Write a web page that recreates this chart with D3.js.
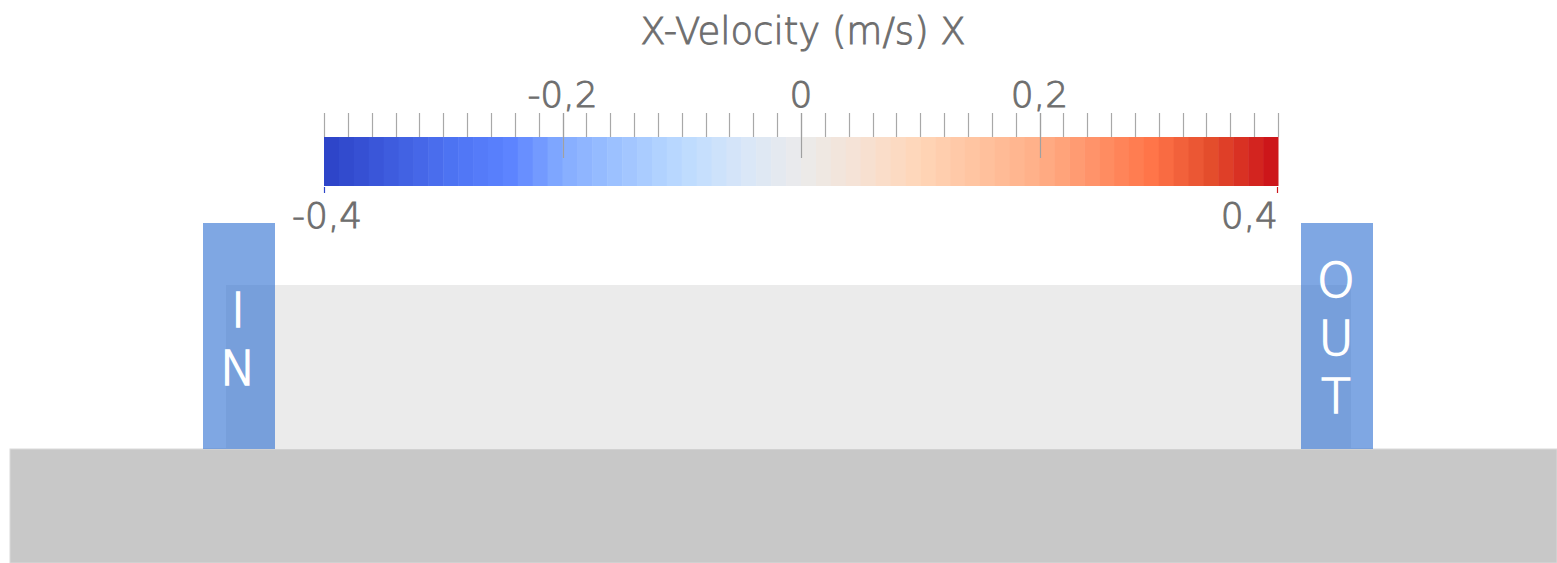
<!DOCTYPE html>
<html>
<head>
<meta charset="utf-8">
<script src="https://cdn.jsdelivr.net/npm/d3@7"></script>
<style>
  body { margin: 0; background: #fff; }
  svg { display: block; }
  text { font-family: "DejaVu Sans", sans-serif; font-weight: 200; }
</style>
</head>
<body>
<div id="chart"></div>
<script>
// chart size
var svg_width = 1557;
var svg_height = 563;

// colour map data (value -> colour)
var title = "X-Velocity (m/s) X";
var range_min = -0.4;
var range_max = 0.4;
var stop_values = [-0.4, -0.3, -0.25, -0.2, -0.1, -0.05, 0, 0.05, 0.1, 0.2, 0.3, 0.35, 0.4];
var stop_colors = ["#2e45c9", "#4d72f2", "#5b82ff", "#86aeff", "#bcdbff", "#d8e6f8", "#ebebeb",
                   "#f6e2d4", "#ffd6b8", "#ffb088", "#ff7448", "#e44c2c", "#cd161a"];
var n_bands = 64;
var major_ticks = [-0.2, 0, 0.2];
var end_labels = [-0.4, 0.4];

// scene blocks
var inlets = [
    { name: "IN", letters: ["I", "N"] },
    { name: "OUT", letters: ["O", "U", "T"] }
];

var svg = d3.select("#chart")
    .append("svg")
    .attr("width", svg_width)
    .attr("height", svg_height);

// comma decimal like the original
var locale = d3.formatLocale({ decimal: ",", thousands: ".", grouping: [3], currency: ["", ""], minus: "-" });
var fmt = locale.format("~g");

// Scales
var x_scale = d3.scaleLinear()
    .domain([range_min, range_max])
    .range([324, 1278]);

var color_lin = d3.scaleLinear()
    .domain(stop_values)
    .range(stop_colors)
    .interpolate(d3.interpolateRgb);

var band_scale = d3.scaleQuantize()
    .domain([range_min, range_max])
    .range(d3.quantize(t => color_lin(range_min + t * (range_max - range_min)), n_bands));

// ---- scene (drawn first, legend sits on top) ----
var scene = svg.append("g");

// ground
scene.append("rect")
    .attr("x", 10).attr("y", 449)
    .attr("width", svg_width - 10).attr("height", svg_height - 449)
    .attr("fill", "#c8c8c8")
    .attr("stroke", "#dadada").attr("stroke-width", 1);

// water channel
scene.append("rect")
    .attr("x", 226).attr("y", 285)
    .attr("width", 1351 - 226).attr("height", 449 - 285)
    .attr("fill", "#ebebeb");

var box_x = d3.scaleOrdinal()
    .domain(inlets.map(d => d.name))
    .range([203, 1301]);

var boxes = scene.selectAll(".inlet")
    .data(inlets)
    .enter()
    .append("g")
    .attr("transform", d => `translate(${box_x(d.name)}, 223)`);

boxes.append("rect")
    .attr("width", 72)
    .attr("height", 449 - 223)
    .attr("fill", "#2a6cd0")
    .attr("fill-opacity", 0.6);

boxes.each(function(d) {
    var g = d3.select(this);
    var top = d.letters.length == 2 ? 104 : 74;
    g.selectAll("text")
        .data(d.letters)
        .enter()
        .append("text")
        .attr("x", 35)
        .attr("y", (l, i) => top + i * 58)
        .attr("text-anchor", "middle")
        .style("font-size", "48px")
        .attr("fill", "#fff")
        .attr("stroke", "#fff")
        .attr("stroke-width", 1.6)
        .text(l => l);
});

// ---- colour legend ----
var legend = svg.append("g");

legend.append("text")
    .attr("x", 803)
    .attr("y", 44)
    .attr("text-anchor", "middle")
    .style("font-size", "37px")
    .attr("fill", "#6e6e6e")
    .attr("stroke", "#6e6e6e")
    .attr("stroke-width", 0.9)
    .text(title);

legend.selectAll(".band")
    .data(band_scale.range())
    .enter()
    .append("rect")
    .attr("x", d => x_scale(band_scale.invertExtent(d)[0]))
    .attr("y", 137)
    .attr("width", d => x_scale(band_scale.invertExtent(d)[1]) - x_scale(band_scale.invertExtent(d)[0]) + 0.5)
    .attr("height", 49)
    .attr("fill", d => d);

// minor ticks every 0.02
legend.selectAll(".minor")
    .data(x_scale.ticks(40))
    .enter()
    .append("line")
    .attr("x1", d => Math.round(x_scale(d)) + 0.5)
    .attr("x2", d => Math.round(x_scale(d)) + 0.5)
    .attr("y1", 113)
    .attr("y2", 137)
    .attr("stroke", "#a8a8a8")
    .attr("stroke-width", 1.2);

legend.selectAll(".major")
    .data(major_ticks)
    .enter()
    .append("line")
    .attr("x1", d => Math.round(x_scale(d)) + 0.5)
    .attr("x2", d => Math.round(x_scale(d)) + 0.5)
    .attr("y1", 113)
    .attr("y2", 158)
    .attr("stroke", "#a0a0a0")
    .attr("stroke-width", 1.2);

legend.selectAll(".major-label")
    .data(major_ticks)
    .enter()
    .append("text")
    .attr("x", d => x_scale(d))
    .attr("y", 107)
    .attr("text-anchor", "middle")
    .style("font-size", "36px")
    .attr("fill", "#6e6e6e")
    .attr("stroke", "#6e6e6e")
    .attr("stroke-width", 0.9)
    .text(d => fmt(d));

// end ticks under the bar, coloured
legend.selectAll(".end-tick")
    .data(end_labels)
    .enter()
    .append("line")
    .attr("x1", (d, i) => x_scale(d) + (i == 0 ? 0.5 : -0.5))
    .attr("x2", (d, i) => x_scale(d) + (i == 0 ? 0.5 : -0.5))
    .attr("y1", 187)
    .attr("y2", 193)
    .attr("stroke", d => band_scale(d))
    .attr("stroke-width", 1.2);

legend.selectAll(".end-label")
    .data(end_labels)
    .enter()
    .append("text")
    .attr("x", (d, i) => i == 0 ? x_scale(d) - 32 : x_scale(d))
    .attr("y", 228)
    .attr("text-anchor", (d, i) => i == 0 ? "start" : "end")
    .style("font-size", "36px")
    .attr("fill", "#6e6e6e")
    .attr("stroke", "#6e6e6e")
    .attr("stroke-width", 0.9)
    .text(d => fmt(d));
</script>
</body>
</html>
